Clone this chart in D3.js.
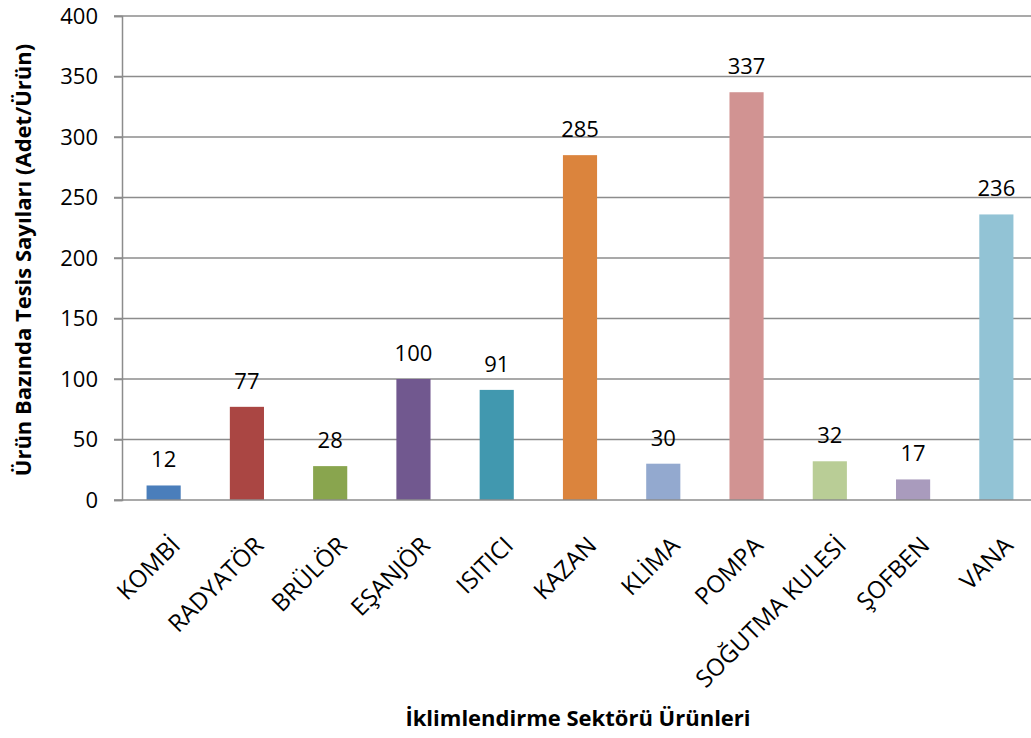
<!DOCTYPE html>
<html>
<head>
<meta charset="utf-8">
<script src="https://d3js.org/d3.v7.min.js"></script>
<style>
  body { margin: 0; background: #fff; }
  text { font-family: "Open Sans", sans-serif; fill: #000; }
</style>
</head>
<body>
<script>
  // chart data
  var products = ["KOMBİ", "RADYATÖR", "BRÜLÖR", "EŞANJÖR", "ISITICI", "KAZAN",
                  "KLİMA", "POMPA", "SOĞUTMA KULESİ", "ŞOFBEN", "VANA"];
  var counts = [12, 77, 28, 100, 91, 285, 30, 337, 32, 17, 236];
  var barColors = ["#4a7ebb", "#aa4643", "#89a54e", "#71588f", "#4198af", "#db843d",
                   "#93a9cf", "#d19392", "#b9cd96", "#a99bbd", "#92c3d5"];
  var yTicks = [0, 50, 100, 150, 200, 250, 300, 350, 400];

  var W = 1031, H = 738;
  var padL = 122, padR = 1038, padT = 16, padB = 500;

  var svg = d3.select("body").append("svg")
      .attr("width", W)
      .attr("height", H);

  var x = d3.scaleBand()
      .domain(products)
      .range([padL, padR])
      .paddingInner(0.59)
      .paddingOuter(0.295);

  var y = d3.scaleLinear()
      .domain([0, 400])
      .range([padB, padT]);

  // gridlines
  svg.append("g")
    .selectAll("line")
    .data(yTicks.slice(1))
    .join("line")
      .attr("x1", padL - 8)
      .attr("x2", padR)
      .attr("y1", function(d) { return y(d); })
      .attr("y2", function(d) { return y(d); })
      .attr("stroke", "#8c8c8c")
      .attr("stroke-width", 1.5);

  // y axis
  var yAxis = svg.append("g")
      .attr("transform", "translate(" + padL + ",0)")
      .call(d3.axisLeft(y).tickValues(yTicks).tickSize(8).tickPadding(16));
  yAxis.select(".domain").attr("stroke", "#8c8c8c").attr("stroke-width", 1.5);
  yAxis.selectAll(".tick line").attr("stroke", "#8c8c8c").attr("stroke-width", 1.5);
  yAxis.selectAll(".tick text")
      .style("font-size", "22px")
      .style("font-family", "'Open Sans', sans-serif");

  // bars
  svg.append("g")
    .selectAll("rect")
    .data(products)
    .join("rect")
      .attr("x", function(d) { return x(d); })
      .attr("width", x.bandwidth())
      .attr("y", function(d, i) { return y(counts[i]); })
      .attr("height", function(d, i) { return padB - y(counts[i]); })
      .attr("fill", function(d, i) { return barColors[i]; });

  // x axis baseline
  svg.append("line")
      .attr("x1", padL - 8)
      .attr("x2", padR)
      .attr("y1", padB)
      .attr("y2", padB)
      .attr("stroke", "#8c8c8c")
      .attr("stroke-width", 1.5);

  // value labels
  svg.append("g")
    .selectAll("text")
    .data(products)
    .join("text")
      .attr("x", function(d) { return x(d) + x.bandwidth() / 2; })
      .attr("y", function(d, i) { return y(counts[i]) - 18; })
      .attr("text-anchor", "middle")
      .style("font-size", "22px")
      .text(function(d, i) { return counts[i]; });

  // category labels, rotated
  svg.append("g")
    .selectAll("text")
    .data(products)
    .join("text")
      .attr("transform", function(d) {
        return "translate(" + (x(d) + x.bandwidth() / 2 + 18) + "," + (padB + 47) + ")rotate(-45)";
      })
      .attr("text-anchor", "end")
      .style("font-size", "24px")
      .text(function(d) { return d; });

  // axis titles
  svg.append("text")
      .attr("transform", "translate(31,260)rotate(-90)")
      .attr("text-anchor", "middle")
      .style("font-size", "22px")
      .style("font-weight", "bold")
      .text("Ürün Bazında Tesis Sayıları (Adet/Ürün)");

  svg.append("text")
      .attr("x", 578)
      .attr("y", 726)
      .attr("text-anchor", "middle")
      .style("font-size", "22px")
      .style("font-weight", "bold")
      .text("İklimlendirme Sektörü Ürünleri");
</script>
</body>
</html>
